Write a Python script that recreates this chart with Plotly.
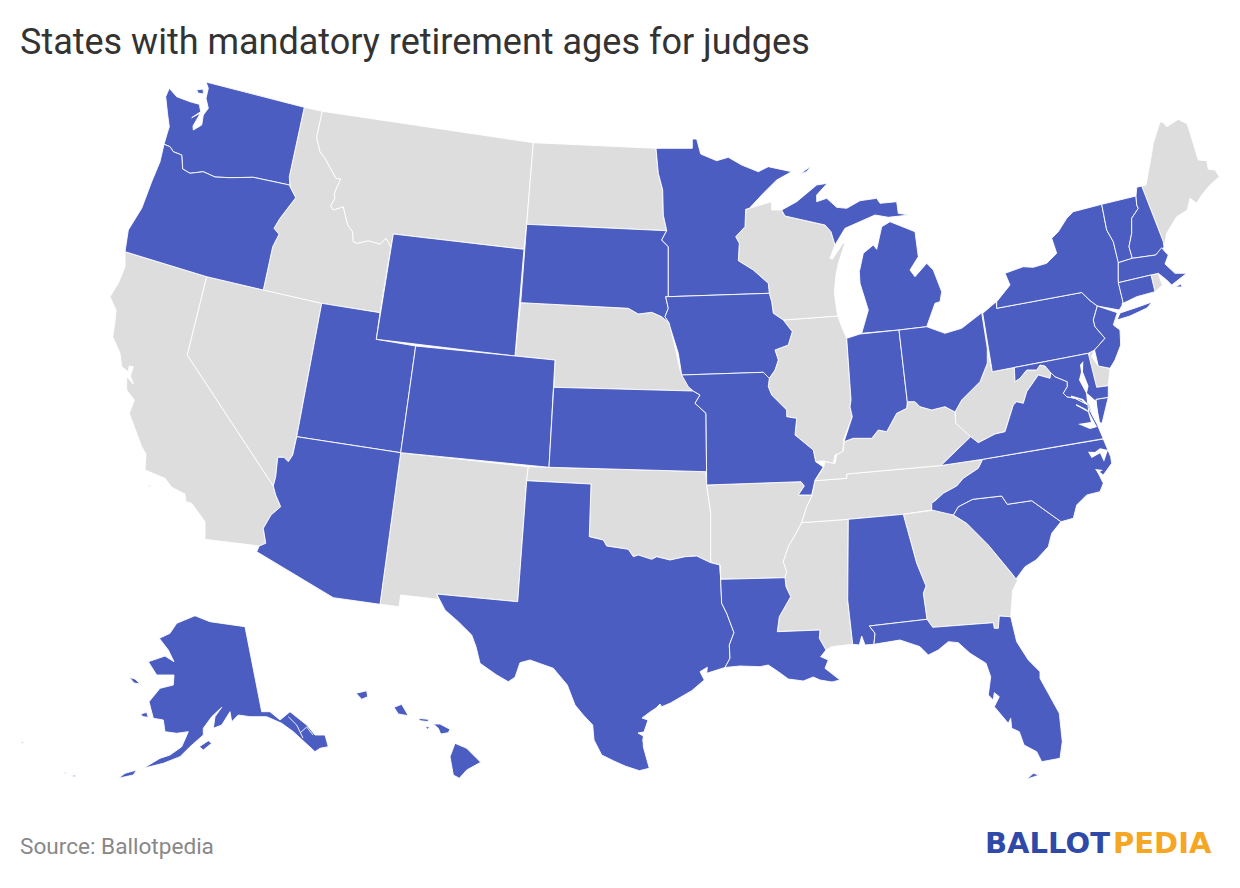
import plotly.graph_objects as go

BLUE = "#4c5dc2"
GREY = "#dddddd"

# Outlines, in picture pixels.
# Borders used by two states are kept once and reversed where needed.
OR_ID = [(263.3,290),(272.7,246.7),(279,234.3),(274,228.3),(280,218.3),(295.7,197.7),(290,186.7)]
WA_OR = [(290,186.7),(289.5,185),(253.3,177.3),(230,177.7),(215,177),(203.3,171.7),(190,173.3),(182.7,169),(181.7,155),(173.3,151.7),(170,146.7),(164,144.3)]
MT_ID = [(322.3,111.3),(316.7,137.3),(320,151.7),(325,158.3),(336,178.3),(340.7,179),(334.3,193.3),(335,198.3),(330.7,206),(333.3,210),(343.3,206.7),(347.7,225),(352.7,231.7),(353.3,241.7),(357.3,243.3),(368.3,240.7),(380,244),(386,238.3),(391,246.7)]
CO_RIVER = [(292.7,455),(288.3,461.7),(284,457.3),(277.7,457.3),(275.7,476.7),(273.3,486),(275.7,495),(280.7,506.7),(271,515),(263.3,528.3),(265.7,543.3),(259.3,546)]
ND_MN = [(656,148.3),(658.3,173.3),(662.7,190),(663.3,215),(666.7,230.7)]
SD_MN = [(666.7,230.7),(661.7,240),(668.3,246.7),(668.3,296.7)]
SD_IA = [(668.3,296.7),(665.7,296.7),(668.3,308.3),(665,316.7),(669.3,323.3)]
NE_IA = [(669.3,323.3),(675,346.7),(680,370),(688.3,386.7),(693.3,391)]
KS_MO = [(693.3,391),(700,395),(695,403.3),(706,413.3),(706.7,485)]
IA_IL = [(769.3,378.3),(775,370),(778.3,360),(775,350),(788.3,345),(792.3,331.7),(783.3,320)]
MN_WI = [(745.7,209.3),(745,226.7),(735.7,236.7),(739.3,243.3),(738.3,260.7),(753.3,270),(768.3,283.3),(769.3,293.3)]
IA_WI = [(769.3,293.3),(771.7,301.7),(773.3,313.3),(783.3,320)]
MO_IL = [(769.3,378.3),(768.3,386.7),(771.7,395),(786.7,410),(786.7,416.7),(796.7,418.3),(795,435),(813.3,450),(815.7,461.7),(823.3,467)]
RED_RIVER = [(589.3,536.7),(603.3,540),(606.7,546),(628.3,549.3),(633.3,556.7),(638.3,555),(651.7,559.3),(656.7,556.7),(670,560),(685,556.7),(696.7,556),(710.7,562.7)]
SABINE = [(720,565),(721.7,603.3),(726.7,613.3),(734,632.7),(729.3,645),(730,658.3),(725,667.5)]
MS_RIVER_AR = [(811.7,496.7),(806.7,506.7),(801.7,522.7)]
MS_RIVER_LOW = [(801.7,522.7),(796,533.3),(788.3,546.7),(783.3,561.7),(786.7,571.7),(785,577.7)]
LA_MS = [(785,577.7),(786,586.7),(790.7,596.7),(779.3,616.7),(777.3,631.7),(820,630),(819.3,638.3),(826,650)]
OH_RIVER_IN = [(907.3,401.7),(906.7,408.3),(896.7,413.3),(886.7,431.7),(878.3,430),(871.7,438.3),(863.3,438.3),(853.3,438.3),(844,441.7)]
OH_RIVER_OH = [(955,412),(945,406.7),(931.7,410),(920,406.7),(915,401.7),(907.3,401.7)]
OH_WV = [(987.3,348.3),(987.3,363.3),(980,381.7),(970,391.7),(961.7,400),(955,412)]
KY_WV = [(955,412),(955.7,423.3),(968.3,435),(970.7,436.7)]
KY_VA = [(970.7,436.7),(956.7,450),(941,465.5)]
WV_VA = [(970.7,436.7),(978.3,442.7),(995,434),(1005,431.7),(1006.7,426.7),(1013.3,405),(1016.7,401.7),(1023.3,403.3),(1026.7,391.7),(1038.3,375),(1050,378.3),(1050.7,372.7)]
WV_MD = [(1014.3,367.5),(1015,381.7),(1020,378.3),(1026.7,370),(1036.7,370),(1040,365),(1045,366),(1050.7,372.7)]
POTOMAC = [(1050.7,372.7),(1055,376.7),(1063.3,380),(1067.3,381.7),(1067.3,386.7),(1063.3,393.3),(1066.7,396.7),(1075,398.3),(1088.3,405),(1091.7,414)]
TN_NC = [(982.7,459.3),(978.3,468.3),(963.3,478.3),(956.7,486),(943.3,493.3),(936,500),(931.7,503.3),(931.7,510)]
NC_SC = [(953.3,515),(958.3,506.7),(972.7,499.3),(1001.7,496),(1007.3,504.3),(1031.7,500.7),(1061,521.7)]
GA_SC = [(953.3,515),(966.7,523.3),(988.3,545),(1003.3,563.3),(1011.7,573.3),(1016,579)]
AL_GA = [(903.3,514.3),(916.7,563.3),(926,586),(923.3,593.3),(927,619.3)]
AL_FL = [(869.3,626),(875,633.3),(874,644.3)]
GA_FL = [(927,619.3),(932.7,627.3),(993.3,622.7),(994.3,628.3),(998.3,628.3),(999.3,616),(1010.7,616.7)]
PA_NY = [(996.7,308.3),(1081.7,292.5),(1090,300.5),(1097.3,306)]
PA_NJ = [(1097.3,306),(1093.3,320),(1095,326.7),(1105,338.3),(1094.5,350)]
NY_VT = [(1101.7,204.3),(1106.7,230),(1113.3,241.7),(1118.3,261.7)]
VT_NH = [(1136,196),(1136.7,205),(1138.3,208.3),(1131.7,218.3),(1131.7,233.3),(1129,246.7),(1132.3,258.3)]
NH_ME = [(1141.7,186),(1163.3,241.7),(1164,247.3)]

WASHINGTON = [(206,82),(304.3,107.3),(289.3,176.7)] + WA_OR + [(167.7,131.7),(169.3,126.7),(167.7,115),(165.7,96.7),(169.3,88.3),(176.7,96.7),(190,101.7),(199.3,104.3),(200.7,111.7),(191.7,117.7),(200.5,113),(193,126),(193.3,130),(201.7,125),(203.3,115),(208.3,108.3),(206,98.3),(208.3,88.3)]
WA_ISLAND = [(196.7,90),(203,89),(203.5,94),(198,93)]
OREGON = WA_OR + [(160,161.7),(151.7,181.7),(141.7,208.3),(128.3,230),(125,251.7),(206.7,276.7)] + OR_ID
CALIFORNIA = [(125,251.7),(206.7,276.7),(187.3,355),(273.3,486),(275.7,495),(280.7,506.7),(271,515),(263.3,528.3),(265.7,543.3),(259.3,546),(205,539.3),(205,521.7),(191.7,503.3),(186,501.7),(185,494),(171.7,487.3),(165,478.3),(145,470),(146,454),(141.7,446.7),(136.7,433.3),(129.3,413.3),(134.3,400),(126.7,390),(126.7,376.7),(133.3,384),(130.5,376),(133.3,366.7),(129.3,366),(128.3,371.7),(121.7,366.7),(120,353.3),(112.7,336.7),(115,321.7),(116,310),(110,296.7),(118.3,283.3),(125,266.7)]
CA_ISLAND = [(148,485),(151,485),(149.5,488)]
NEVADA = [(206.7,276.7),(263.3,290),(321.7,303.3),(296.7,436.7)] + CO_RIVER[:6] + [(187.3,355)]
IDAHO = [(304.3,107.3),(322.3,111.3)] + MT_ID[1:] + [(380,312.7),(321.7,303.3)] + OR_ID + [(289.3,176.7)]
MONTANA = [(322.3,111.3),(533.3,142.7),(526.7,224.3),(524,249.3),(393.3,234),(391,246.7)] + MT_ID[::-1][1:]
WYOMING = [(393.3,234),(524,249.3),(515,356),(376.3,339.3)]
UTAH = [(321.7,303.3),(380,312.7),(376.3,339.3),(415.7,346),(400.7,452.7),(296.7,436.7)]
COLORADO = [(415.7,346),(555,360),(549,467.3),(400.7,452.7)]
ARIZONA = [(296.7,436.7),(400.7,452.7),(380,604.3),(333.3,597.7),(256.7,551.7)] + CO_RIVER[::-1]
NEW_MEXICO = [(400.7,452.7),(528.3,466.7),(526.7,480.7),(517.7,601.7),(436.7,594),(438.3,599.3),(400.7,595),(399,606.7),(380,604.3)]
NORTH_DAKOTA = [(533.3,142.7),(656,148.3)] + ND_MN[1:] + [(526.7,224.3)]
SOUTH_DAKOTA = [(526.7,224.3)] + SD_MN + SD_IA + [(661.7,316.7),(651.7,312.3),(638.3,314),(628.3,308.3),(520.7,302.7)]
NEBRASKA = [(520.7,302.7),(628.3,308.3),(638.3,314),(651.7,312.3),(661.7,316.7)] + NE_IA + [(553.7,387.3),(555,360),(515,356)]
KANSAS = [(553.7,387.3),(693.3,391)] + KS_MO[1:] + [(706,471.7),(549,467.3)]
OKLAHOMA = [(528.3,466.7),(706,471.7),(706.7,485),(710.7,513.3),(710.7,562.7)] + RED_RIVER[::-1] + [(591,484),(526.7,480.7)]
TEXAS = [(526.7,480.7),(591,484)] + RED_RIVER + SABINE[:-1] + [(725,667.5),(706.7,673.3),(707.3,667.3),(700,671.7),(704.3,680),(691.7,690.7),(670,703.3),(661.7,706.7),(660,704),(656,708),(650,712),(642,718),(648,720),(644,732),(638,733),(643.3,736),(643.3,746.7),(649.3,768.3),(639.3,770.7),(625,766),(613.3,760.7),(601.7,755),(594,740),(592.7,725),(583.3,715),(575,705),(567.3,685),(553.3,668.3),(530,660),(520,662.7),(515,677.3),(508.3,681.7),(496.7,675),(480,663.3),(476,646.7),(471.7,635),(458.3,621.7),(445,610),(436.7,594),(517.7,601.7)]
MINNESOTA = [(656,148.3),(692.3,148.3),(692.3,139),(696.7,139),(700.7,154),(716.7,160.7),(728.3,157.3),(741.7,165),(758.3,171.7),(768.3,166.7),(791.7,171.7),(776.7,180),(763.3,193.3),(749.3,208.3)] + MN_WI + [(668.3,296.7)] + SD_MN[::-1][1:] + ND_MN[::-1][1:]
MN_ISLAND = [(800,174),(811,166),(806.7,171.7)]
IOWA = [(668.3,296.7),(769.3,293.3)] + IA_WI[1:] + IA_IL[::-1][1:] + [(763.3,372.3),(681.7,375),(678.3,353.3),(670,326.7),(669.3,323.3),(665,316.7),(668.3,308.3),(665.7,296.7)]
MISSOURI = [(681.7,375),(763.3,372.3)] + MO_IL + [(815,480),(811.7,495),(798.3,495),(804.3,486),(801,481.7),(706.7,485)] + KS_MO[::-1][1:] + [(688.3,386.7)]
ARKANSAS = [(706.7,485),(801,481.7),(804.3,486),(798.3,495),(811.7,495)] + MS_RIVER_AR + MS_RIVER_LOW[1:] + [(720.7,579.3),(720,565),(710.7,562.7),(710.7,513.3)]
LOUISIANA = [(720.7,579.3),(785,577.7)] + LA_MS[1:] + [(820.7,656.7),(828.3,660),(825,668.3),(840,680),(832,682),(820,680),(813.3,677),(803.3,681),(788.3,679),(778.3,671.7),(768.3,665),(760,666.7),(740,666)] + SABINE[::-1]
MISSISSIPPI = [(801.7,522.7),(848.3,519.3),(847.7,600),(852.7,644.3),(831.7,646.7),(826,650)] + LA_MS[::-1][1:] + MS_RIVER_LOW[::-1][1:]
TENNESSEE = [(815,480.7),(846.7,478.3),(846.7,474),(941,465.5),(982.7,459.3)] + TN_NC[1:] + [(903.3,514.3),(848.3,519.3),(801.7,522.7)] + MS_RIVER_AR[::-1][1:]
ALABAMA = [(848.3,519.3)] + AL_GA + AL_FL + [(865,645),(861.7,636),(859.3,645),(852.7,644.3),(847.7,600)]
GEORGIA = AL_GA + GA_FL + [(1012.7,590),(1018.3,579.3),(1016,579)] + GA_SC[::-1][1:] + [(955,507.3)]
FLORIDA = AL_FL + [(896.7,640),(900,640),(920,646.7),(928.3,655),(938.3,650),(948.3,641.7),(958.3,642.7),(970,653.3),(986,663.3),(990.7,676.7),(988.3,695),(993.3,700),(994.3,692.7),(999.3,696.7),(994.3,706.7),(1008.3,723.3),(1010.7,718.3),(1011.7,728.3),(1019.3,731.7),(1024,745),(1036.7,751.7),(1041.7,761.7),(1060,758.3),(1062.3,741.7),(1059.3,713.3),(1040,678.3),(1040,671.7),(1028.3,660),(1016.7,641.7)] + GA_FL[::-1]
FL_KEY = [(1026.7,779.3),(1033.3,773.3),(1039.3,775)]
SOUTH_CAROLINA = NC_SC + [(1051.7,533.3),(1048.3,546.7),(1036,560),(1025,566.7),(1016,579)] + GA_SC[::-1][1:]
NORTH_CAROLINA = [(982.7,459.3),(1103.3,439),(1110.7,456.7),(1111.7,463.3),(1103.3,475),(1096.7,470),(1103.3,483.3),(1100,491.7),(1086.7,495),(1076.7,505),(1073.3,518.3),(1061,521.7)] + NC_SC[::-1][1:] + [(931.7,510)] + TN_NC[::-1][1:]
VIRGINIA = [(941,465.5)] + KY_VA[::-1][1:] + WV_VA[1:] + POTOMAC[1:] + [(1096.7,423.3),(1100,431.7),(1103.3,438.7),(982.7,459.3)]
VA_SHORE = [(1096,399.3),(1108.3,397.3),(1102,423.3),(1098.3,422)]
WEST_VIRGINIA = [(986,348.3),(988.3,355),(992.3,371.7),(1014.3,367.5)] + WV_MD[1:] + WV_VA[::-1][1:] + KY_WV[::-1][1:] + OH_WV[::-1][1:]
KENTUCKY = [(823.3,468),(825,461.7),(835,463.3),(836.7,455),(843.3,450.7),(844,441.7)] + OH_RIVER_IN[::-1][1:] + OH_RIVER_OH[::-1][1:] + KY_WV[1:] + KY_VA[1:] + [(846.7,474),(846.7,478.3),(815,480.7)]
ILLINOIS = [(783.3,320),(837.7,316),(841.7,326.7),(846.7,338.3),(851,400),(850,406.7),(852.3,416.7),(843.3,440),(844,441.7),(842.7,451.7),(835,455),(833.3,463.3),(823.3,461)] + MO_IL[::-1][1:] + IA_IL[:-1]
INDIANA = [(846.7,338.3),(860,334),(899,330)] + [(907.3,401.7)] + OH_RIVER_IN[1:] + [(852.3,416.7),(850,406.7),(851,400)]
OHIO = [(899,330),(926.7,326.7),(945,333.3),(961.7,328.3),(981.7,312.7)] + OH_WV + OH_RIVER_OH[1:]
WISCONSIN = MN_WI + IA_WI[1:] + [(837.7,316),(834.3,293.3),(836,275),(838.3,263.3),(845,243.3),(843,243),(832.5,259),(830,258.3),(835,245),(831,231.7),(825,225),(785,216),(781.7,210),(771.7,210),(771.7,201.7),(749.3,208.3)]
MICHIGAN_UP = [(781.7,210),(796.7,201.7),(816.7,185),(827.3,183.3),(816.7,195),(816.7,201.7),(826.7,198.3),(836.7,207.3),(846.7,208.3),(860,200.7),(876.7,198.3),(880,203.3),(896.7,201.7),(898.3,213.3),(909.3,215),(888.3,217.3),(875,215),(856.7,223.3),(845,228.3),(835,245),(831,231.7),(825,225),(785,216)]
MICHIGAN_LOW = [(861.7,333.3),(868.3,310),(860,283.3),(859.3,271.7),(863.3,253.3),(873.3,245),(876.7,249.3),(881.7,226.7),(890,221.7),(915,231.7),(918.3,256.7),(910,270),(915,276.7),(926.7,263.3),(933.3,270),(941.7,291.7),(940,301.7),(935,303.3),(926.7,326.7),(899,330)]
PENNSYLVANIA = [(982.7,313.3),(996.2,301.7)] + PA_NY + PA_NJ[1:] + [(1088.3,353.3),(992.3,371.7)]
NEW_YORK = [(996.7,301.7)] + PA_NY + [(1119.3,310),(1123.3,303.3),(1118.3,281.7),(1118.3,261.7)] + NY_VT[::-1][1:] + [(1073.3,211.7),(1066.7,218.3),(1058.3,231.7),(1051.7,238.3),(1056.7,253.3),(1046.7,263.3),(1033.3,267.3),(1023.3,266.7),(1005,273.3),(1010,285)]
LONG_ISLAND = [(1117,320),(1120,313),(1135,308),(1152,302),(1147,308),(1130,316)]
NEW_JERSEY = PA_NJ + [(1098.3,366),(1110,368.3),(1115,360),(1120.7,345),(1120,330),(1113.3,325),(1117.3,312.7)]
DELAWARE = [(1090,350.7),(1094.3,350),(1091.7,356.7),(1098.3,366),(1110,368.3),(1108.3,385.7),(1096.7,387.3),(1088.3,356.7)]
MARYLAND = [(1014.3,367.5),(1088.3,353.3),(1096.7,387.3),(1108.3,385.7),(1108.3,397.3),(1096,399.3)] + POTOMAC[::-1] + WV_MD[::-1][1:]
VERMONT = [(1101.7,204.3),(1136,196)] + VT_NH[1:] + [(1118.3,262.7)] + NY_VT[::-1][1:]
NEW_HAMPSHIRE = [(1136,196),(1136.7,187.3)] + NH_ME + [(1155.7,255)] + VT_NH[::-1][:-1]
MAINE = [(1141.7,186),(1146,185),(1151.7,153.3),(1153.3,143.3),(1160,121.7),(1163.3,122.7),(1166.7,126.7),(1178.3,119.3),(1187.3,124),(1198.3,160),(1206.7,160.7),(1208.3,169.3),(1215,170),(1219.3,176.7),(1210,185),(1201.7,195),(1196.7,203.3),(1190,198.3),(1187.3,210),(1176.7,216.7),(1166.7,233.3),(1164,247.3),(1163.3,241.7)]
MASSACHUSETTS = [(1118.3,262.7),(1132.3,258.3),(1155.7,255),(1161.7,247.7),(1165,251.7),(1168.3,255),(1165,264),(1175,273.3),(1186.7,273.3),(1188.3,272),(1180,278.3),(1171.7,285),(1166.7,280),(1158.3,273.3),(1151,275),(1118.3,282.7)]
MA_ISLAND = [(1175,287),(1181,284),(1182,287)]
CONNECTICUT = [(1118.3,282.7),(1151,275),(1155,291.7),(1136.7,296.7),(1121.7,304),(1123.3,303.3)]
RHODE_ISLAND = [(1151,275),(1158.3,273.3),(1161.7,283.3),(1162.7,285),(1155,291.7)]
ALASKA = [(245,626.7),(261.7,711.7),(270,711.7),(280,720),(290,711.7),(306.7,725),(315,735),(325,735),(328.3,746.7),(320,748.3),(315,751.7),(301.7,740),(293.3,731.7),(281.7,723.3),(266.7,716.7),(250,716.7),(238.3,715),(231.7,721.7),(230,711.7),(221.7,725),(213.3,728.3),(215,716.7),(221.7,707.3),(211.7,716.7),(203.3,728.3),(203.3,735),(190,746.7),(180,756.7),(163.3,763.3),(143.3,768.3),(160,758.3),(170,755),(181.7,746.7),(188.3,731.7),(176.7,733.3),(165,731.7),(163.3,720),(153.3,718.3),(149,701.7),(160,688.3),(173.3,685),(174,675),(156.7,675),(148.3,661.7),(165,656),(174,661.7),(168.3,650),(159.3,638.3),(170,633.3),(176.7,623.3),(195,615.7),(210,621.7),(233.3,625)]
AK_ISLANDS = [
    [(129.3,677.3),(135,679),(140.3,684),(134,683)],
    [(140.7,714),(146.7,712.3),(148.3,717.3),(143,716.7)],
    [(199.3,746.7),(208.3,740.7),(211.7,743.3),(203.3,750)],
    [(118.3,778.3),(125,773.3),(136.7,770),(133.3,775)],
    [(20,740.7),(24,743),(22.5,743.3)],
    [(64,772),(66.5,773),(65,774)],
    [(70.7,775.7),(76,775),(75,777)],
    [(83.3,775.7),(90.7,779),(88,777.5)],
]
HAWAII = [
    [(356,693.3),(366.7,690.7),(367.7,696.7),(361.7,699.3)],
    [(394,707.3),(401.7,704.3),(408.3,715.7),(398.3,714)],
    [(418.3,718.3),(428.3,719.3),(428.3,721.7),(420,720.7)],
    [(425,726),(430,727.3),(427.3,729.3)],
    [(433.3,724),(440,724),(450,729.3),(448.3,732.7),(440.7,734),(438.3,728.3)],
    [(455,743.3),(466.7,748.3),(480.7,762.3),(466.7,770),(459.3,778.3),(453.3,775),(450,756.7)],
]

# Water cut into the land: Chesapeake, Pamlico, SE Alaska channels, Padre lagoon
WATER = [
    [(1080,365),(1083.3,361),(1083,372),(1088.5,386),(1087,393),(1096,401),(1100,422.5),(1096.5,423),(1092,414),(1089,405),(1083,399),(1071,395.5),(1071,397.5),(1081,400),(1088,406),(1090,412),(1085,408.5),(1076,404),(1076,405.5),(1088,412),(1091,422),(1078,424),(1090,429),(1097,427),(1088,410),(1086,393),(1079,380),(1081,372)],
    [(1088,451.7),(1091.7,458),(1100,453.3),(1104,461.7),(1108,450),(1100,448.3),(1095,452)],
    [(1095,469),(1098,473),(1103,470)],
]
CHANNELS = [
    [(288.3,716.7),(296.7,725),(303,738)],
    [(300,733),(306.7,727),(313,735)],
    [(661,707),(648.7,723),(642.7,740),(646.7,756.7)],
]

BLUE_SHAPES = [WASHINGTON, WA_ISLAND, OREGON, UTAH, ARIZONA, WYOMING, COLORADO, SOUTH_DAKOTA, KANSAS,
               MINNESOTA, MN_ISLAND, IOWA, MISSOURI, TEXAS, LOUISIANA, ALABAMA, FLORIDA, FL_KEY,
               SOUTH_CAROLINA, NORTH_CAROLINA, VIRGINIA, VA_SHORE, MICHIGAN_UP, MICHIGAN_LOW, INDIANA, OHIO,
               PENNSYLVANIA, NEW_YORK, LONG_ISLAND, NEW_JERSEY, MARYLAND, VERMONT, NEW_HAMPSHIRE,
               MASSACHUSETTS, MA_ISLAND, CONNECTICUT, ALASKA] + AK_ISLANDS + HAWAII
GREY_SHAPES = [CALIFORNIA, CA_ISLAND, NEVADA, IDAHO, MONTANA, NEW_MEXICO, NORTH_DAKOTA, NEBRASKA, OKLAHOMA,
               ARKANSAS, MISSISSIPPI, TENNESSEE, GEORGIA, WEST_VIRGINIA, KENTUCKY, ILLINOIS, WISCONSIN,
               DELAWARE, MAINE, RHODE_ISLAND]

TITLE = "States with mandatory retirement ages for judges"
SOURCE = "Source: Ballotpedia"


def add_shape(fig, points, color, line_width=0.9, line_color="white", fill="toself"):
    xs = [p[0] for p in points]
    ys = [p[1] for p in points]
    fig.add_trace(go.Scatter(x=xs, y=ys, mode="lines", fill=fill, fillcolor=color,
                             line=dict(color=line_color, width=line_width),
                             hoverinfo="skip", showlegend=False))


fig = go.Figure()
for shape in GREY_SHAPES:
    add_shape(fig, shape + shape[:1], GREY)
for shape in BLUE_SHAPES:
    add_shape(fig, shape + shape[:1], BLUE)
for shape in WATER:
    add_shape(fig, shape, "white", line_width=0)
for shape in CHANNELS:
    add_shape(fig, shape, "white", fill="none")

fig.update_xaxes(range=[0, 1240], visible=False)
fig.update_yaxes(range=[888, 0], visible=False)
fig.update_layout(
    width=1240, height=888, margin=dict(l=0, r=0, t=0, b=0),
    plot_bgcolor="white", paper_bgcolor="white",
    annotations=[
        dict(text=TITLE, x=18, y=42, xref="x", yref="y", xanchor="left", yanchor="middle", showarrow=False,
             font=dict(family="Roboto", size=36, color="#333333")),
        dict(text=SOURCE, x=18, y=846, xref="x", yref="y", xanchor="left", yanchor="middle", showarrow=False,
             font=dict(family="Roboto", size=22.6, color="#888888")),
        dict(text="<b>BALLOT</b>", x=1112, y=843, xref="x", yref="y", xanchor="right", yanchor="middle", showarrow=False,
             font=dict(family="DejaVu Sans", size=29, color="#2f49a8")),
        dict(text="<b>PEDIA</b>", x=1111, y=843, xref="x", yref="y", xanchor="left", yanchor="middle", showarrow=False,
             font=dict(family="DejaVu Sans", size=29, color="#f5a623")),
    ],
)
fig.write_html("out.html", post_script="document.body.style.margin='0';", config=dict(displayModeBar=False))
